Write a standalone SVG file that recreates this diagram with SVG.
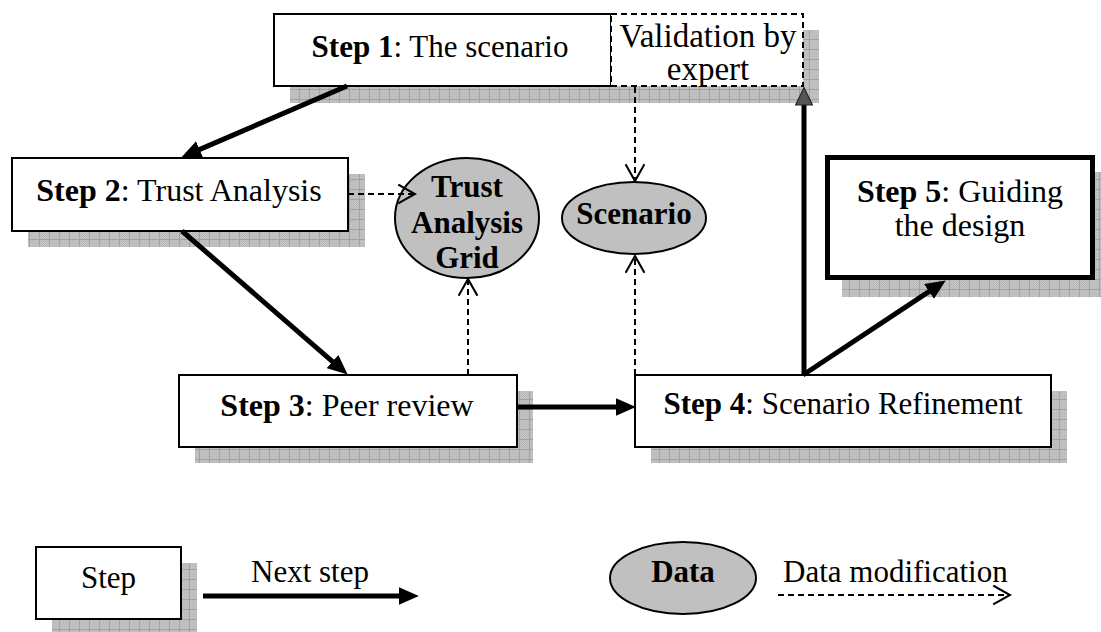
<svg xmlns="http://www.w3.org/2000/svg" width="1101" height="632" viewBox="0 0 1101 632">
<style>
text{font-family:"Liberation Serif","Times New Roman",serif;font-size:31px;fill:#000}
.b{font-weight:bold}
.f32{font-size:32px}
.box{fill:#fff;stroke:#000;stroke-width:2}
.shadow{fill:url(#grid)}
.data{fill:#c0c0c0;stroke:#000;stroke-width:2}
.next{stroke:#000;stroke-width:5;fill:none;marker-end:url(#solid)}
.mod{stroke:#000;stroke-width:2;stroke-dasharray:6 4;fill:none;marker-end:url(#open)}
</style>
<defs>
<pattern id="dither" width="2" height="2" patternUnits="userSpaceOnUse">
<rect width="2" height="2" fill="#c6c6c6"/>
<rect width="1" height="1" fill="#b6b6b6"/>
<rect x="1" y="1" width="1" height="1" fill="#b9b9b9"/>
</pattern>
<pattern id="grid" width="10" height="10" patternUnits="userSpaceOnUse">
<rect width="10" height="10" fill="url(#dither)"/>
<path d="M9.5,0V10M0,9.5H10" stroke="#a2a2a2" stroke-width="1"/>
</pattern>
<marker id="solid" markerUnits="userSpaceOnUse" markerWidth="20" markerHeight="18" viewBox="0 0 18 16" refX="10" refY="8" orient="auto">
<path d="M0,0L18,8L0,16z" fill="#000"/>
</marker>
<marker id="solidgray" markerUnits="userSpaceOnUse" markerWidth="20" markerHeight="18" viewBox="0 0 16 16" refX="8" refY="8" orient="auto">
<path d="M0,0.5L15.5,8L0,15.5z" fill="#555" stroke="#222" stroke-width="1"/>
</marker>
<marker id="open" markerUnits="userSpaceOnUse" markerWidth="20" markerHeight="22" viewBox="-1 -1 19 21" refX="16" refY="9" orient="auto">
<path d="M0,0L16,9L0,18" fill="none" stroke="#000" stroke-width="2"/>
</marker>
</defs>

<g id="step1">
<rect class="shadow" x="290" y="30" width="529" height="73"/>
<rect class="box" x="274" y="14" width="337" height="72"/>
<text x="440" y="57" text-anchor="middle"><tspan class="b">Step 1</tspan>: The scenario</text>
</g>
<g id="validation">
<rect x="611" y="14" width="192" height="72" fill="#fff" stroke="#000" stroke-width="2" stroke-dasharray="6 4"/>
<text x="708" y="47" text-anchor="middle" style="font-size:33px">Validation by</text>
<text x="708" y="80" text-anchor="middle" style="font-size:33px">expert</text>
</g>
<g id="step2">
<rect class="shadow" x="28" y="174" width="337" height="73"/>
<rect class="box" x="12" y="158" width="336" height="73"/>
<text class="f32" x="179" y="201" text-anchor="middle"><tspan class="b">Step 2</tspan>: Trust Analysis</text>
</g>
<g id="step3">
<rect class="shadow" x="195" y="391" width="338" height="72"/>
<rect class="box" x="179" y="375" width="338" height="72"/>
<text class="f32" x="347" y="416" text-anchor="middle"><tspan class="b">Step 3</tspan>: Peer review</text>
</g>
<g id="step4">
<rect class="shadow" x="651" y="391" width="416" height="72"/>
<rect class="box" x="635" y="375" width="416" height="72"/>
<text x="843" y="414" text-anchor="middle"><tspan class="b">Step 4</tspan>: Scenario Refinement</text>
</g>
<g id="step5">
<rect class="shadow" x="842" y="172" width="270" height="125"/>
<rect x="827.5" y="157.5" width="265" height="120" fill="#fff" stroke="#000" stroke-width="5"/>
<text class="f32" x="960" y="202" text-anchor="middle"><tspan class="b">Step 5</tspan>: Guiding</text>
<text class="f32" x="960" y="236" text-anchor="middle">the design</text>
</g>
<g id="trust-analysis-grid">
<ellipse class="data" cx="467" cy="218" rx="72" ry="60"/>
<text class="b" x="467" y="197" text-anchor="middle">Trust</text>
<text class="b" x="467" y="233" text-anchor="middle">Analysis</text>
<text class="b" x="467" y="268" text-anchor="middle">Grid</text>
</g>
<g id="scenario">
<ellipse class="data" cx="634" cy="218" rx="72" ry="36"/>
<text class="b" x="634" y="224" text-anchor="middle">Scenario</text>
</g>

<g id="connectors">
<line class="next" x1="347" y1="86" x2="189.4" y2="153.9"/>
<line class="next" x1="182" y1="231" x2="340.9" y2="368.8"/>
<line class="next" x1="517" y1="407" x2="627" y2="407"/>
<line class="next" x1="803" y1="375" x2="938.3" y2="285.4"/>
<line x1="804" y1="375" x2="804" y2="96" stroke="#000" stroke-width="5" marker-end="url(#solidgray)"/>
<line class="mod" x1="348" y1="194" x2="415" y2="194"/>
<line class="mod" x1="468" y1="375" x2="468" y2="279"/>
<line class="mod" x1="635" y1="87" x2="635" y2="181"/>
<line class="mod" x1="635" y1="375" x2="635" y2="256"/>
</g>

<g id="legend">
<g id="legend-step">
<rect class="shadow" x="52" y="563" width="145" height="72"/>
<rect class="box" x="36" y="547" width="145" height="72"/>
<text x="108.5" y="588" text-anchor="middle">Step</text>
</g>
<g id="legend-next">
<text x="310" y="582" text-anchor="middle">Next step</text>
<line class="next" x1="203" y1="596" x2="410" y2="596"/>
</g>
<g id="legend-data">
<ellipse class="data" cx="683" cy="578" rx="73" ry="36"/>
<text class="b" x="683" y="582" text-anchor="middle">Data</text>
</g>
<g id="legend-mod">
<text x="783" y="582">Data modification</text>
<line class="mod" x1="778" y1="595" x2="1010" y2="595"/>
</g>
</g>
</svg>
